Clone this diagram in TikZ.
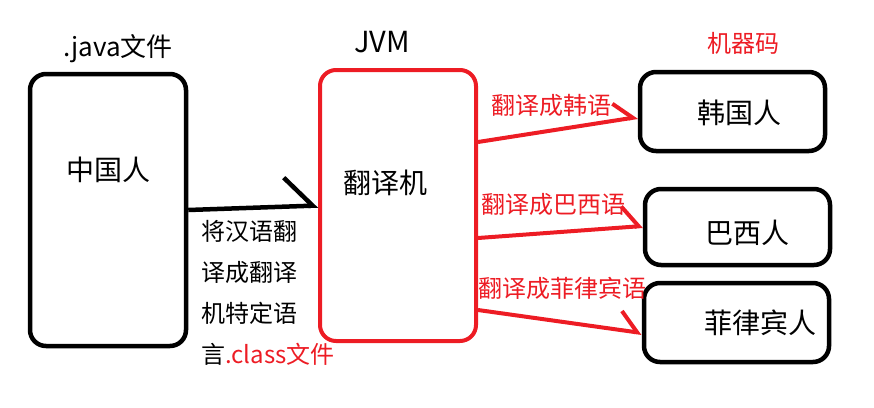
\documentclass[tikz,border=0pt]{standalone}
\usepackage{fontspec}
\setmainfont{Noto Sans CJK SC}
\usetikzlibrary{arrows.meta}
\definecolor{penred}{RGB}{237,28,36}
\begin{document}
\begin{tikzpicture}[x=1pt,y=-1pt,inner sep=0pt,
        box/.style={draw,line width=4.5pt,rounded corners=16pt},
        redbox/.style={box,draw=penred,line width=4pt},
        big/.style={font=\fontsize{28}{30}\selectfont},
        small/.style={font=\fontsize{24}{26}\selectfont},
        redtxt/.style={small,text=penred}]
        \useasboundingbox (0,0) rectangle (874,407);
        \node[box,minimum width=156pt,minimum height=272pt] (cn) at (108,210) {};
        \node[redbox,minimum width=156pt,minimum height=271pt] (jvm) at (398,205.5) {};
        \node[box,minimum width=185pt,minimum height=79pt] (kr) at (732.5,111.5) {};
        \node[box,minimum width=185pt,minimum height=76pt] (br) at (737.5,227) {};
        \node[box,minimum width=185pt,minimum height=79pt] (ph) at (736.5,322.5) {};
        \node[big] (cntxt) at (108,170) {中国人};
        \node[big] (jvmtxt) at (385,183) {翻译机};
        \node[big] (krtxt) at (739,113) {韩国人};
        \node[big] (brtxt) at (747,233) {巴西人};
        \node[big] (phtxt) at (760,323) {菲律宾人};
        \node[font=\fontsize{26}{28}\selectfont] (java) at (118,49) {.java文件};
        \node[font=\fontsize{29}{31}\selectfont] (jvmname) at (382,42) {JVM};
        \node[redtxt] (code) at (743,43) {机器码};
        \node[small,anchor=west] (l1) at (201,231) {将汉语翻};
        \node[small,anchor=west] (l2) at (201,272) {译成翻译};
        \node[small,anchor=west] (l3) at (201,313) {机特定语};
        \node[small,anchor=west] (l4) at (201,354) {言\textcolor{penred}{.class文件}};
        \node[redtxt] (tokr) at (551,105) {翻译成韩语};
        \node[redtxt] (tobr) at (553,204) {翻译成巴西语};
        \node[redtxt] (toph) at (562,288) {翻译成菲律宾语};
        \draw[line width=4.5pt,-{Straight Barb[left,length=28pt,width=58pt]}] (cn.east) -- (jvm.west);
        \draw[penred,line width=4pt,-{Straight Barb[left,length=18pt,width=34pt]}] (jvm.east |- 0,142) -- (kr.west |- 0,117);
        \draw[penred,line width=4pt,-{Straight Barb[left,length=16pt,width=42pt]}] (jvm.east |- 0,238) -- (br.west |- 0,226);
        \draw[penred,line width=4pt,-{Straight Barb[left,length=18pt,width=38pt]}] (jvm.east |- 0,310) -- (ph.west |- 0,333);
\end{tikzpicture}
\end{document}
